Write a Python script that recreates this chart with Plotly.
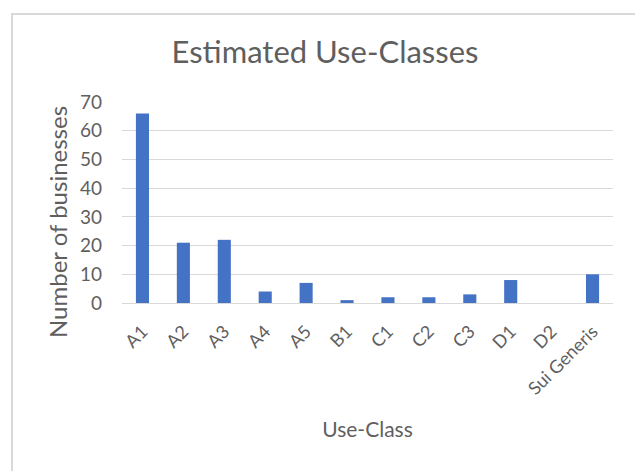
import plotly.graph_objects as go

use_classes = ["A1", "A2", "A3", "A4", "A5", "B1", "C1", "C2", "C3", "D1", "D2", "Sui Generis"]
businesses = [66, 21, 22, 4, 7, 1, 2, 2, 3, 8, 0, 10]
y_ticks = [0, 10, 20, 30, 40, 50, 60, 70]

W, H = 635, 471
ML, MR, MT, MB = 122, 22, 102, 168
PW, PH = W - ML - MR, H - MT - MB
FONT = "Lato"
GREY = "#5f5f5f"


def px_x(x):
    """Horizontal pixel position to paper fraction."""
    return (x - ML) / PW


def px_y(y):
    """Vertical pixel position (from top) to paper fraction."""
    return (H - MB - y) / PH


fig = go.Figure(
    go.Bar(
        x=use_classes,
        y=businesses,
        marker=dict(color="#4472C4", line=dict(width=0)),
    )
)

fig.update_layout(
    width=W,
    height=H,
    margin=dict(l=ML, r=MR, t=MT, b=MB),
    paper_bgcolor="white",
    plot_bgcolor="white",
    bargap=0.68,
    showlegend=False,
    font=dict(family=FONT, color=GREY, size=13),
    title=dict(
        text="Estimated Use-Classes",
        x=(172 + 478) / 2 / W,
        xanchor="center",
        y=1 - 52 / H,
        yanchor="middle",
        font=dict(family=FONT, size=31, color=GREY),
    ),
    xaxis=dict(
        tickangle=-45,
        showgrid=False,
        showline=True,
        linecolor="#d9d9d9",
        linewidth=1,
        ticks="",
        ticklabelstandoff=10,
        tickfont=dict(size=18, color=GREY),
        title=dict(text="Use-Class", font=dict(size=21, color=GREY), standoff=24),
    ),
    yaxis=dict(
        range=[0, 70],
        tickvals=y_ticks,
        showgrid=True,
        gridcolor="#d9d9d9",
        gridwidth=1,
        zeroline=False,
        ticks="",
        ticklabelstandoff=19,
        tickfont=dict(size=19, color=GREY),
    ),
    annotations=[
        dict(
            text="Number of businesses",
            xref="paper",
            yref="paper",
            x=px_x(57),
            y=px_y(222),
            xanchor="center",
            yanchor="middle",
            textangle=-90,
            showarrow=False,
            font=dict(family=FONT, size=24, color=GREY),
        )
    ],
    shapes=[
        dict(
            type="rect",
            xref="paper",
            yref="paper",
            x0=px_x(12),
            x1=px_x(W + 20),
            y0=px_y(H + 20),
            y1=px_y(14),
            line=dict(color="#d9d9d9", width=2),
            fillcolor="rgba(0,0,0,0)",
            layer="below",
        )
    ],
)

fig.write_html("out.html")
